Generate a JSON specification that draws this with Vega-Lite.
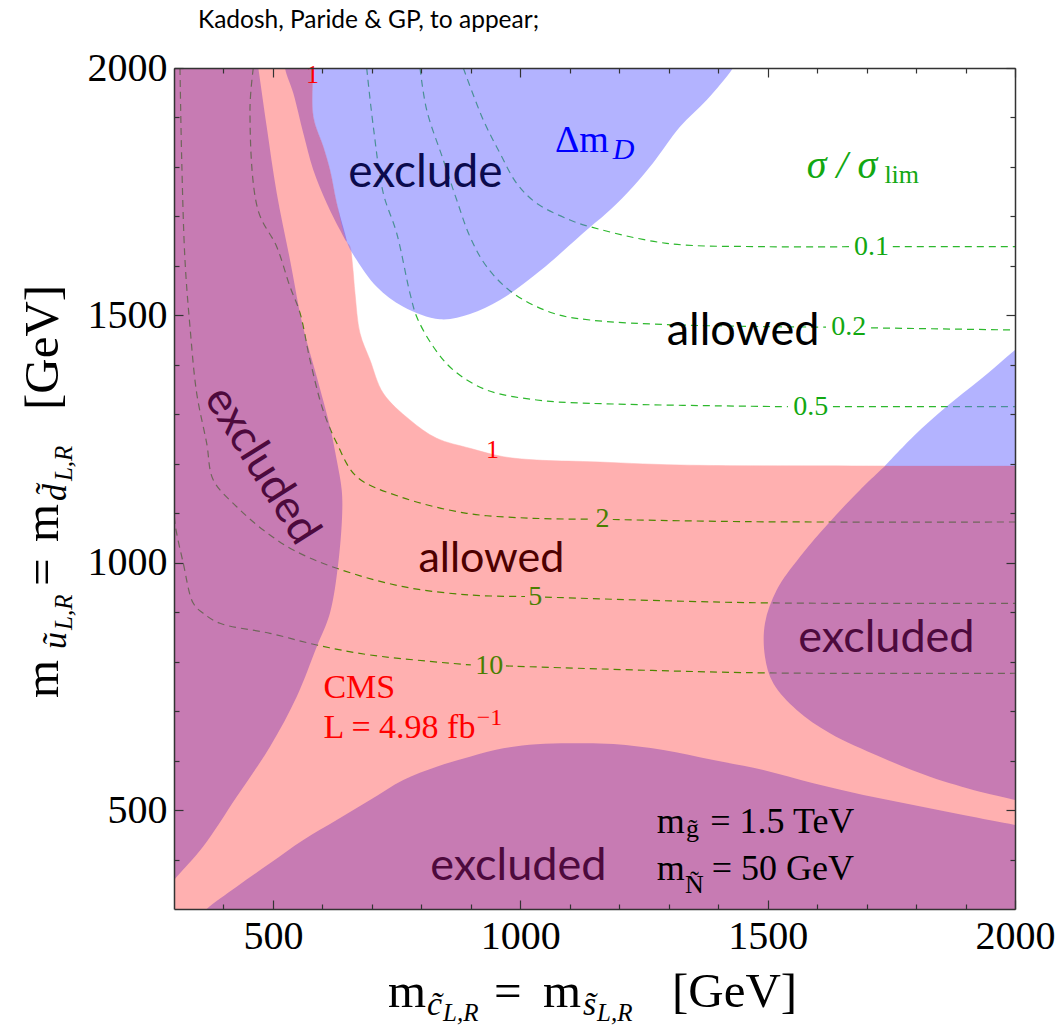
{
  "$schema": "https://vega.github.io/schema/vega-lite/v6.json",
  "width": 841,
  "height": 841,
  "autosize": {"type": "none"},
  "padding": {"left": 174, "top": 68, "right": 45, "bottom": 118},
  "background": "white",
  "config": {"view": {"stroke": null}},
  "datasets": {
    "pink": [
      {"i":0,"x":250,"y":2050},{"i":1,"x":580.5,"y":2050},{"i":2,"x":581,"y":2000},{"i":3,"x":581.6,"y":1901.6},{"i":4,"x":601.8,"y":1840.9},
      {"i":5,"x":615.3,"y":1793.8},{"i":6,"x":628.9,"y":1726.5},{"i":7,"x":649.1,"y":1648.9},{"i":8,"x":655.8,"y":1638.8},
      {"i":9,"x":661.2,"y":1598.3},{"i":10,"x":665.9,"y":1544.6},{"i":11,"x":676,"y":1463.7},{"i":12,"x":696.2,"y":1409.8},
      {"i":13,"x":723.1,"y":1342.4},{"i":14,"x":777,"y":1288.5},{"i":15,"x":831,"y":1251.5},{"i":16,"x":898.3,"y":1231.3},
      {"i":17,"x":965.6,"y":1214.3},{"i":18,"x":1033.2,"y":1207.6},{"i":19,"x":1140.9,"y":1204.2},{"i":20,"x":1322.8,"y":1197.5},
      {"i":21,"x":1727.1,"y":1195.5},{"i":22,"x":2000,"y":1195.5},{"i":23,"x":2050,"y":1195.5},{"i":24,"x":2050,"y":250},{"i":25,"x":250,"y":250}
    ],
    "purpleLeft": [
      {"i":0,"x":250,"y":2050},{"i":1,"x":463,"y":2050},{"i":2,"x":470.4,"y":2000},{"i":3,"x":487.4,"y":1881.3},{"i":4,"x":507.6,"y":1747.3},
      {"i":5,"x":534.5,"y":1611.9},{"i":6,"x":560.8,"y":1476.5},{"i":7,"x":588.5,"y":1376},{"i":8,"x":615.3,"y":1274.9},
      {"i":9,"x":628.9,"y":1207.6},{"i":10,"x":639,"y":1147},{"i":11,"x":640,"y":1100.5},{"i":12,"x":632.1,"y":999.4},
      {"i":13,"x":615.3,"y":898.3},{"i":14,"x":588.5,"y":830.2},{"i":15,"x":548,"y":729.1},{"i":16,"x":494,"y":628.1},
      {"i":17,"x":426.7,"y":527},{"i":18,"x":358.6,"y":426},{"i":19,"x":305.5,"y":365.3},{"i":20,"x":280,"y":338},{"i":21,"x":250,"y":338}
    ],
    "purpleBand": [
      {"i":0,"x":522,"y":2050},{"i":1,"x":524.4,"y":2000},{"i":2,"x":541.2,"y":1948.9},{"i":3,"x":561.4,"y":1868},{"i":4,"x":581.6,"y":1793.8},
      {"i":5,"x":608.7,"y":1726.5},{"i":6,"x":635.6,"y":1672.5},{"i":7,"x":649.1,"y":1648.9},{"i":8,"x":628.9,"y":1726.5},
      {"i":9,"x":615.3,"y":1793.8},{"i":10,"x":601.8,"y":1840.9},{"i":11,"x":581.6,"y":1901.6},{"i":12,"x":581,"y":2000},{"i":13,"x":580.5,"y":2050}
    ],
    "purpleBottom": [
      {"i":0,"x":335,"y":265},{"i":1,"x":366.1,"y":300},{"i":2,"x":426.7,"y":345.1},{"i":3,"x":494,"y":392.4},{"i":4,"x":561.4,"y":439.5},
      {"i":5,"x":628.9,"y":479.9},{"i":6,"x":696.2,"y":520.3},{"i":7,"x":763.5,"y":560.8},{"i":8,"x":831,"y":587.7},
      {"i":9,"x":898.3,"y":607.8},{"i":10,"x":965.6,"y":624.8},{"i":11,"x":1033.2,"y":632.9},{"i":12,"x":1100.5,"y":634.9},
      {"i":13,"x":1188,"y":633.5},{"i":14,"x":1289.1,"y":621.4},{"i":15,"x":1390.2,"y":601.2},{"i":16,"x":1491.2,"y":581},
      {"i":17,"x":1592.3,"y":554.1},{"i":18,"x":1693.4,"y":530.5},{"i":19,"x":1794.4,"y":510.3},{"i":20,"x":1895.5,"y":490.1},
      {"i":21,"x":2000,"y":470},{"i":22,"x":2050,"y":460},{"i":23,"x":2050,"y":250},{"i":24,"x":335,"y":250}
    ],
    "purpleRight": [
      {"i":0,"x":1737.2,"y":1195.5},{"i":1,"x":1737.2,"y":1195.5},{"i":2,"x":1686.7,"y":1147},{"i":3,"x":1626,"y":1082.9},{"i":4,"x":1565.4,"y":1012.1},
      {"i":5,"x":1518.3,"y":944.8},{"i":6,"x":1494.6,"y":877.5},{"i":7,"x":1494.6,"y":810},{"i":8,"x":1511.4,"y":756.3},
      {"i":9,"x":1558.7,"y":702.3},{"i":10,"x":1626,"y":655.2},{"i":11,"x":1727.1,"y":607.8},{"i":12,"x":1828.2,"y":567.4},
      {"i":13,"x":1929.2,"y":537.1},{"i":14,"x":2000,"y":520.3},{"i":15,"x":2050,"y":505},{"i":16,"x":2050,"y":1195.5}
    ],
    "blueTop": [
      {"i":0,"x":580.5,"y":2050},{"i":1,"x":581,"y":2000},{"i":2,"x":581.6,"y":1901.6},{"i":3,"x":601.8,"y":1840.9},{"i":4,"x":615.3,"y":1793.8},
      {"i":5,"x":628.9,"y":1726.5},{"i":6,"x":649.1,"y":1648.9},{"i":7,"x":669.3,"y":1611.9},{"i":8,"x":709.7,"y":1557.9},
      {"i":9,"x":763.5,"y":1517.5},{"i":10,"x":837.7,"y":1492},{"i":11,"x":898.3,"y":1502.7},{"i":12,"x":959,"y":1531},
      {"i":13,"x":1040,"y":1590},{"i":14,"x":1134.2,"y":1672.5},{"i":15,"x":1181.3,"y":1713},{"i":16,"x":1227.8,"y":1760.1},
      {"i":17,"x":1268.3,"y":1808},{"i":18,"x":1322.8,"y":1881.3},{"i":19,"x":1376.8,"y":1935.3},{"i":20,"x":1430,"y":2000},{"i":21,"x":1458,"y":2050}
    ],
    "blueCorner": [
      {"i":0,"x":2050,"y":1472},{"i":1,"x":2000,"y":1430},{"i":2,"x":1929.2,"y":1369.7},{"i":3,"x":1861.8,"y":1315.7},{"i":4,"x":1794.4,"y":1255.1},
      {"i":5,"x":1737.2,"y":1195.5},{"i":6,"x":1737.2,"y":1195.5},{"i":7,"x":2050,"y":1195.5}
    ],
    "contGreen": [
      {"seg":"0.1a","i":0,"x":884.8,"y":2000},{"seg":"0.1a","i":1,"x":925.2,"y":1894.9},{"seg":"0.1a","i":2,"x":959,"y":1827.6},
      {"seg":"0.1a","i":3,"x":992.7,"y":1766.9},{"seg":"0.1a","i":4,"x":1033.2,"y":1726.5},{"seg":"0.1a","i":5,"x":1100.5,"y":1692.7},
      {"seg":"0.1a","i":6,"x":1140.9,"y":1679.2},{"seg":"0.1a","i":7,"x":1295.9,"y":1645.6},{"seg":"0.1a","i":8,"x":1498,"y":1638.8},
      {"seg":"0.1a","i":9,"x":1666,"y":1638.8},
      {"seg":"0.1b","i":0,"x":1753,"y":1638.8},{"seg":"0.1b","i":1,"x":2000,"y":1638.8},
      {"seg":"0.2a","i":0,"x":797.3,"y":2000},{"seg":"0.2a","i":1,"x":810.8,"y":1915.1},{"seg":"0.2a","i":2,"x":844.4,"y":1814},
      {"seg":"0.2a","i":3,"x":871.5,"y":1733.2},{"seg":"0.2a","i":4,"x":898.3,"y":1659},{"seg":"0.2a","i":5,"x":932.1,"y":1598.3},
      {"seg":"0.2a","i":6,"x":985.9,"y":1544.6},{"seg":"0.2a","i":7,"x":1066.7,"y":1504.2},{"seg":"0.2a","i":8,"x":1140.9,"y":1490.6},
      {"seg":"0.2a","i":9,"x":1322.8,"y":1480.5},{"seg":"0.2a","i":10,"x":1618,"y":1476.1},
      {"seg":"0.2b","i":0,"x":1709,"y":1474.7},{"seg":"0.2b","i":1,"x":2000,"y":1470.4},
      {"seg":"0.5a","i":0,"x":689.5,"y":2000},{"seg":"0.5a","i":1,"x":702.9,"y":1881.3},{"seg":"0.5a","i":2,"x":723.1,"y":1746.7},
      {"seg":"0.5a","i":3,"x":750.2,"y":1665.9},{"seg":"0.5a","i":4,"x":777,"y":1544.6},{"seg":"0.5a","i":5,"x":790.6,"y":1497.3},
      {"seg":"0.5a","i":6,"x":824.2,"y":1436.6},{"seg":"0.5a","i":7,"x":864.6,"y":1389.5},{"seg":"0.5a","i":8,"x":932.1,"y":1349.1},
      {"seg":"0.5a","i":9,"x":1033.2,"y":1328.9},{"seg":"0.5a","i":10,"x":1140.9,"y":1322.2},{"seg":"0.5a","i":11,"x":1541,"y":1315.4},
      {"seg":"0.5b","i":0,"x":1632,"y":1315.4},{"seg":"0.5b","i":1,"x":2000,"y":1315.4}
    ],
    "contOlive": [
      {"seg":"2a","i":0,"x":460.3,"y":2000},{"seg":"2a","i":1,"x":453.6,"y":1915.1},{"seg":"2a","i":2,"x":469.8,"y":1713},
      {"seg":"2a","i":3,"x":507.6,"y":1638.8},{"seg":"2a","i":4,"x":534.5,"y":1557.9},{"seg":"2a","i":5,"x":554.7,"y":1504.8},
      {"seg":"2a","i":6,"x":574.9,"y":1409.8},{"seg":"2a","i":7,"x":601.2,"y":1308.7},{"seg":"2a","i":8,"x":628.9,"y":1242},
      {"seg":"2a","i":9,"x":669.3,"y":1173.9},{"seg":"2a","i":10,"x":756.8,"y":1133.4},{"seg":"2a","i":11,"x":891.7,"y":1099.9},
      {"seg":"2a","i":12,"x":1025.7,"y":1089.8},{"seg":"2a","i":13,"x":1145,"y":1087.9},
      {"seg":"2b","i":0,"x":1187,"y":1087.3},{"seg":"2b","i":1,"x":1464.3,"y":1082.9},{"seg":"2b","i":2,"x":2000,"y":1082.3},
      {"seg":"5a","i":0,"x":312.1,"y":2000},{"seg":"5a","i":1,"x":315.6,"y":1814},{"seg":"5a","i":2,"x":322.2,"y":1611.9},
      {"seg":"5a","i":3,"x":332.3,"y":1477},{"seg":"5a","i":4,"x":345.9,"y":1342.4},{"seg":"5a","i":5,"x":366.1,"y":1241.4},
      {"seg":"5a","i":6,"x":379.4,"y":1167.2},{"seg":"5a","i":7,"x":426.7,"y":1113.2},{"seg":"5a","i":8,"x":480.5,"y":1066.1},
      {"seg":"5a","i":9,"x":541.2,"y":1025.7},{"seg":"5a","i":10,"x":628.9,"y":988.7},{"seg":"5a","i":11,"x":763.5,"y":951.5},
      {"seg":"5a","i":12,"x":898.3,"y":934.7},{"seg":"5a","i":13,"x":1009.5,"y":931.7},
      {"seg":"5b","i":0,"x":1050,"y":930.5},{"seg":"5b","i":1,"x":1464.3,"y":919.2},{"seg":"5b","i":2,"x":2000,"y":917.9},
      {"seg":"10a","i":0,"x":300,"y":1116.7},{"seg":"10a","i":1,"x":302,"y":1079.6},{"seg":"10a","i":2,"x":318.8,"y":998.8},
      {"seg":"10a","i":3,"x":339,"y":917.9},{"seg":"10a","i":4,"x":359.2,"y":897.7},{"seg":"10a","i":5,"x":393,"y":877.5},
      {"seg":"10a","i":6,"x":494,"y":857.3},{"seg":"10a","i":7,"x":588.5,"y":833.7},{"seg":"10a","i":8,"x":696.2,"y":813.5},
      {"seg":"10a","i":9,"x":900,"y":793.3},
      {"seg":"10b","i":0,"x":971,"y":791.3},{"seg":"10b","i":1,"x":1464.3,"y":777.7},{"seg":"10b","i":2,"x":2000,"y":776.5}
    ],
    "labGreen": [{"t":"0.1","x":1710,"y":1639},{"t":"0.2","x":1664,"y":1475.5},{"t":"0.5","x":1587,"y":1315.4}],
    "labOlive": [{"t":"2","x":1166,"y":1087.5},{"t":"5","x":1030,"y":931},{"t":"10","x":937,"y":792}],
    "labRed": [{"t":"1","x":580,"y":1986},{"t":"1","x":944,"y":1228}],
    "tTitle": [{"t":"Kadosh, Paride & GP, to appear;","x":348.5,"y":2081}],
    "tExclude": [{"t":"exclude","x":652,"y":1760}],
    "tAllowedW": [{"t":"allowed","x":1296,"y":1440}],
    "tAllowedP": [{"t":"allowed","x":794,"y":981}],
    "tExcluded": [{"t":"excluded","x":1562,"y":820},{"t":"excluded","x":818,"y":359}],
    "tExcludedRot": [{"t":"excluded","x":478,"y":1197}],
    "tDm": [{"t":"Δm","x":1070,"y":1831}],
    "tDmSub": [{"t":"D","x":1187,"y":1817}],
    "tSig": [{"t":"σ / σ","x":1579,"y":1777}],
    "tSigSub": [{"t":"lim","x":1736,"y":1767}],
    "tCms": [{"t":"CMS","x":602,"y":726},{"t":"L = 4.98 fb","x":602,"y":645}],
    "tCmsSup": [{"t":"\u22121","x":912,"y":672}],
    "tParam": [{"t":"m","x":1276,"y":453},{"t":"= 1.5 TeV","x":1384,"y":453},{"t":"m","x":1276,"y":359},{"t":"= 50 GeV","x":1387,"y":359}],
    "tParamSub": [{"t":"g\u0303","x":1335,"y":445},{"t":"\u00d1","x":1333,"y":332}],
    "tXT": [{"t":"m","x":732.6,"y":102},{"t":"=","x":946.8,"y":102},{"t":"m","x":1045.9,"y":102},{"t":"[GeV]","x":1306.7,"y":102}],
    "tXTs": [{"t":"c\u0303","x":811.4,"y":85.8},{"t":"s\u0303","x":1126.8,"y":85.8}],
    "tXTss": [{"t":"L,R","x":843.8,"y":73.6},{"t":"L,R","x":1155.1,"y":73.6}],
    "tYT": [{"t":"m","x":65.5,"y":726.5},{"t":"=","x":65.5,"y":952.9},{"t":"m","x":65.5,"y":1041.9},{"t":"[GeV]","x":65.5,"y":1308.7}],
    "tYTs": [{"t":"\u0169","x":81.7,"y":825.5},{"t":"d\u0303","x":81.7,"y":1124.8}],
    "tYTss": [{"t":"L,R","x":93.8,"y":864},{"t":"L,R","x":93.8,"y":1165}]
  },
  "encoding": {
    "x": {"field": "x", "type": "quantitative", "scale": {"domain": [300, 2000], "nice": false, "zero": false}, "axis": null},
    "y": {"field": "y", "type": "quantitative", "scale": {"domain": [300, 2000], "nice": false, "zero": false}, "axis": null}
  },
  "resolve": {"axis": {"x": "independent", "y": "independent"}},
  "layer": [
    {
      "data": {"name": "pink"},
      "mark": {"type": "line", "fill": "#FFB0B0", "stroke": "#FFB0B0", "strokeWidth": 0.5, "interpolate": "catmull-rom", "clip": true},
      "encoding": {
        "x": {"field": "x", "type": "quantitative", "scale": {"domain": [300, 2000], "nice": false, "zero": false},
              "axis": {"orient": "bottom", "values": [500, 1000, 1500, 2000], "format": "d", "ticks": false, "tickSize": 0, "domain": false, "grid": false,
                       "labelFont": "Liberation Serif", "labelFontSize": 40, "labelColor": "#000000", "labelPadding": 7, "labelBaseline": "top",
                       "labelFlush": false, "labelOverlap": false, "title": null, "zindex": 1}},
        "y": {"field": "y", "type": "quantitative", "scale": {"domain": [300, 2000], "nice": false, "zero": false},
              "axis": {"orient": "left", "values": [500, 1000, 1500, 2000], "format": "d", "ticks": false, "tickSize": 0, "domain": false, "grid": false,
                       "labelFont": "Liberation Serif", "labelFontSize": 40, "labelColor": "#000000", "labelPadding": 7, "labelAlign": "right",
                       "labelBaseline": "middle", "labelFlush": false, "labelOverlap": false, "title": null, "zindex": 1}},
        "order": {"field": "i", "type": "quantitative"}
      }
    },
    {
      "data": {"name": "contGreen"},
      "mark": {"type": "line", "color": "#2DB82D", "strokeWidth": 1.2, "strokeDash": [7, 5], "interpolate": "catmull-rom", "clip": true},
      "encoding": {"detail": {"field": "seg"}, "order": {"field": "i", "type": "quantitative"}}
    },
    {
      "data": {"name": "contOlive"},
      "mark": {"type": "line", "color": "#4F8500", "strokeWidth": 1.2, "strokeDash": [7, 5], "interpolate": "catmull-rom", "clip": true},
      "encoding": {"detail": {"field": "seg"}, "order": {"field": "i", "type": "quantitative"}}
    },
    {
      "data": {"name": "purpleLeft"},
      "mark": {"type": "line", "fill": "#8F45B5", "fillOpacity": 0.5, "strokeWidth": 0, "interpolate": "catmull-rom", "clip": true},
      "encoding": {
        "x": {"field": "x", "type": "quantitative", "scale": {"domain": [300, 2000], "nice": false, "zero": false},
              "axis": {"orient": "bottom", "values": [500, 1000, 1500, 2000], "ticks": true, "tickSize": -9, "tickWidth": 1.2, "tickColor": "#333333",
                       "domain": true, "domainColor": "#333333", "domainWidth": 1.5, "labels": false, "grid": false, "title": null, "zindex": 1}},
        "y": {"field": "y", "type": "quantitative", "scale": {"domain": [300, 2000], "nice": false, "zero": false},
              "axis": {"orient": "left", "values": [500, 1000, 1500, 2000], "ticks": true, "tickSize": -9, "tickWidth": 1.2, "tickColor": "#333333",
                       "domain": true, "domainColor": "#333333", "domainWidth": 1.5, "labels": false, "grid": false, "title": null, "zindex": 1}},
        "order": {"field": "i", "type": "quantitative"}
      }
    },
    {
      "data": {"name": "purpleBand"},
      "mark": {"type": "line", "fill": "#8F45B5", "fillOpacity": 0.5, "strokeWidth": 0, "interpolate": "catmull-rom", "clip": true},
      "encoding": {
        "x": {"field": "x", "type": "quantitative", "scale": {"domain": [300, 2000], "nice": false, "zero": false},
              "axis": {"orient": "bottom", "values": [400, 600, 700, 800, 900, 1100, 1200, 1300, 1400, 1600, 1700, 1800, 1900], "ticks": true, "tickSize": -5,
                       "tickWidth": 1.2, "tickColor": "#333333", "domain": false, "labels": false, "grid": false, "title": null, "zindex": 1}},
        "y": {"field": "y", "type": "quantitative", "scale": {"domain": [300, 2000], "nice": false, "zero": false},
              "axis": {"orient": "left", "values": [400, 600, 700, 800, 900, 1100, 1200, 1300, 1400, 1600, 1700, 1800, 1900], "ticks": true, "tickSize": -5,
                       "tickWidth": 1.2, "tickColor": "#333333", "domain": false, "labels": false, "grid": false, "title": null, "zindex": 1}},
        "order": {"field": "i", "type": "quantitative"}
      }
    },
    {
      "data": {"name": "purpleBottom"},
      "mark": {"type": "line", "fill": "#8F45B5", "fillOpacity": 0.5, "strokeWidth": 0, "interpolate": "catmull-rom", "clip": true},
      "encoding": {
        "x": {"field": "x", "type": "quantitative", "scale": {"domain": [300, 2000], "nice": false, "zero": false},
              "axis": {"orient": "top", "values": [500, 1000, 1500, 2000], "ticks": true, "tickSize": -9, "tickWidth": 1.2, "tickColor": "#333333",
                       "domain": true, "domainColor": "#333333", "domainWidth": 1.5, "labels": false, "grid": false, "title": null, "zindex": 1}},
        "y": {"field": "y", "type": "quantitative", "scale": {"domain": [300, 2000], "nice": false, "zero": false},
              "axis": {"orient": "right", "values": [500, 1000, 1500, 2000], "ticks": true, "tickSize": -9, "tickWidth": 1.2, "tickColor": "#333333",
                       "domain": true, "domainColor": "#333333", "domainWidth": 1.5, "labels": false, "grid": false, "title": null, "zindex": 1}},
        "order": {"field": "i", "type": "quantitative"}
      }
    },
    {
      "data": {"name": "purpleRight"},
      "mark": {"type": "line", "fill": "#8F45B5", "fillOpacity": 0.5, "strokeWidth": 0, "interpolate": "catmull-rom", "clip": true},
      "encoding": {
        "x": {"field": "x", "type": "quantitative", "scale": {"domain": [300, 2000], "nice": false, "zero": false},
              "axis": {"orient": "top", "values": [400, 600, 700, 800, 900, 1100, 1200, 1300, 1400, 1600, 1700, 1800, 1900], "ticks": true, "tickSize": -5,
                       "tickWidth": 1.2, "tickColor": "#333333", "domain": false, "labels": false, "grid": false, "title": null, "zindex": 1}},
        "y": {"field": "y", "type": "quantitative", "scale": {"domain": [300, 2000], "nice": false, "zero": false},
              "axis": {"orient": "right", "values": [400, 600, 700, 800, 900, 1100, 1200, 1300, 1400, 1600, 1700, 1800, 1900], "ticks": true, "tickSize": -5,
                       "tickWidth": 1.2, "tickColor": "#333333", "domain": false, "labels": false, "grid": false, "title": null, "zindex": 1}},
        "order": {"field": "i", "type": "quantitative"}
      }
    },
    {
      "data": {"name": "blueTop"},
      "mark": {"type": "line", "fill": "#6767FF", "fillOpacity": 0.5, "strokeWidth": 0, "interpolate": "catmull-rom", "clip": true},
      "encoding": {"order": {"field": "i", "type": "quantitative"}}
    },
    {
      "data": {"name": "blueCorner"},
      "mark": {"type": "line", "fill": "#6767FF", "fillOpacity": 0.5, "strokeWidth": 0, "interpolate": "catmull-rom", "clip": true},
      "encoding": {"order": {"field": "i", "type": "quantitative"}}
    },
    {
      "data": {"values": [{}]},
      "mark": {"type": "rule", "color": "#8a8a8a", "strokeWidth": 2},
      "encoding": {
        "x": {"datum": -48.7, "type": "quantitative", "scale": {"domain": [300, 2000], "nice": false, "zero": false}, "axis": null},
        "y": {"datum": 2140, "type": "quantitative", "scale": {"domain": [300, 2000], "nice": false, "zero": false}, "axis": null},
        "y2": {"datum": 60}
      }
    },
    {"data": {"name": "labGreen"}, "mark": {"type": "text", "font": "Liberation Serif", "fontSize": 28, "color": "#12A812", "align": "center", "baseline": "middle"}, "encoding": {"text": {"field": "t"}}},
    {"data": {"name": "labOlive"}, "mark": {"type": "text", "font": "Liberation Serif", "fontSize": 28, "color": "#4A7F00", "align": "center", "baseline": "middle"}, "encoding": {"text": {"field": "t"}}},
    {"data": {"name": "labRed"}, "mark": {"type": "text", "font": "Liberation Serif", "fontSize": 26, "color": "#FF0000", "align": "center", "baseline": "middle"}, "encoding": {"text": {"field": "t"}}},
    {"data": {"name": "tTitle"}, "mark": {"type": "text", "font": "Lato", "fontSize": 24.5, "color": "#000000", "align": "left", "baseline": "alphabetic"}, "encoding": {"text": {"field": "t"}}},
    {"data": {"name": "tExclude"}, "mark": {"type": "text", "font": "Lato", "fontSize": 46, "color": "#0B0B4D", "align": "left", "baseline": "alphabetic"}, "encoding": {"text": {"field": "t"}}},
    {"data": {"name": "tAllowedW"}, "mark": {"type": "text", "font": "Lato", "fontSize": 45, "color": "#000000", "align": "left", "baseline": "alphabetic"}, "encoding": {"text": {"field": "t"}}},
    {"data": {"name": "tAllowedP"}, "mark": {"type": "text", "font": "Lato", "fontSize": 43, "color": "#4D0000", "align": "left", "baseline": "alphabetic"}, "encoding": {"text": {"field": "t"}}},
    {"data": {"name": "tExcluded"}, "mark": {"type": "text", "font": "Lato", "fontSize": 45, "color": "#4D0A3D", "align": "left", "baseline": "alphabetic"}, "encoding": {"text": {"field": "t"}}},
    {"data": {"name": "tExcludedRot"}, "mark": {"type": "text", "font": "Lato", "fontSize": 45, "color": "#4D0A3D", "align": "center", "baseline": "middle", "angle": 58}, "encoding": {"text": {"field": "t"}}},
    {"data": {"name": "tDm"}, "mark": {"type": "text", "font": "Liberation Serif", "fontSize": 38, "color": "#0000FF", "align": "left", "baseline": "alphabetic"}, "encoding": {"text": {"field": "t"}}},
    {"data": {"name": "tDmSub"}, "mark": {"type": "text", "font": "Liberation Serif", "fontStyle": "italic", "fontSize": 30, "color": "#0000FF", "align": "left", "baseline": "alphabetic"}, "encoding": {"text": {"field": "t"}}},
    {"data": {"name": "tSig"}, "mark": {"type": "text", "font": "Liberation Serif", "fontStyle": "italic", "fontSize": 40, "color": "#12A812", "align": "left", "baseline": "alphabetic"}, "encoding": {"text": {"field": "t"}}},
    {"data": {"name": "tSigSub"}, "mark": {"type": "text", "font": "Liberation Serif", "fontSize": 26, "color": "#12A812", "align": "left", "baseline": "alphabetic"}, "encoding": {"text": {"field": "t"}}},
    {"data": {"name": "tCms"}, "mark": {"type": "text", "font": "Liberation Serif", "fontSize": 34, "color": "#FF0000", "align": "left", "baseline": "alphabetic"}, "encoding": {"text": {"field": "t"}}},
    {"data": {"name": "tCmsSup"}, "mark": {"type": "text", "font": "Liberation Serif", "fontSize": 24, "color": "#FF0000", "align": "left", "baseline": "alphabetic"}, "encoding": {"text": {"field": "t"}}},
    {"data": {"name": "tParam"}, "mark": {"type": "text", "font": "Liberation Serif", "fontSize": 36, "color": "#000000", "align": "left", "baseline": "alphabetic"}, "encoding": {"text": {"field": "t"}}},
    {"data": {"name": "tParamSub"}, "mark": {"type": "text", "font": "Liberation Serif", "fontSize": 26, "color": "#000000", "align": "left", "baseline": "alphabetic"}, "encoding": {"text": {"field": "t"}}},
    {"data": {"name": "tXT"}, "mark": {"type": "text", "font": "Liberation Serif", "fontSize": 49, "color": "#000000", "align": "left", "baseline": "alphabetic"}, "encoding": {"text": {"field": "t"}}},
    {"data": {"name": "tXTs"}, "mark": {"type": "text", "font": "Liberation Serif", "fontStyle": "italic", "fontSize": 34, "color": "#000000", "align": "left", "baseline": "alphabetic"}, "encoding": {"text": {"field": "t"}}},
    {"data": {"name": "tXTss"}, "mark": {"type": "text", "font": "Liberation Serif", "fontStyle": "italic", "fontSize": 25, "color": "#000000", "align": "left", "baseline": "alphabetic"}, "encoding": {"text": {"field": "t"}}},
    {"data": {"name": "tYT"}, "mark": {"type": "text", "font": "Liberation Serif", "fontSize": 49, "color": "#000000", "align": "left", "baseline": "alphabetic", "angle": 270}, "encoding": {"text": {"field": "t"}}},
    {"data": {"name": "tYTs"}, "mark": {"type": "text", "font": "Liberation Serif", "fontStyle": "italic", "fontSize": 34, "color": "#000000", "align": "left", "baseline": "alphabetic", "angle": 270}, "encoding": {"text": {"field": "t"}}},
    {"data": {"name": "tYTss"}, "mark": {"type": "text", "font": "Liberation Serif", "fontStyle": "italic", "fontSize": 25, "color": "#000000", "align": "left", "baseline": "alphabetic", "angle": 270}, "encoding": {"text": {"field": "t"}}}
  ]
}
